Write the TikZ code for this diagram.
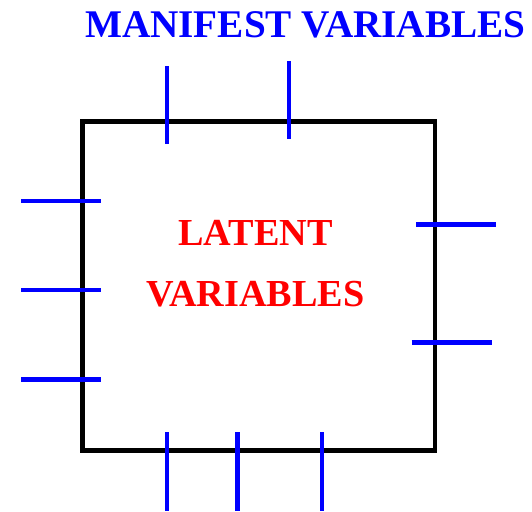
\documentclass[tikz,border=0pt]{standalone}
\usepackage{fontspec}
\setmainfont{Liberation Serif}
\begin{document}
\begin{tikzpicture}[x=1pt,y=-1pt,
  boxline/.style={draw=black,line width=4.6pt},
  mv/.style={draw=blue,line width=4.4pt},
  lbl/.style={inner sep=0pt,anchor=base,font=\bfseries\fontsize{38.2}{45}\selectfont}]
\useasboundingbox (0,0) rectangle (532,511);
\draw[boxline] (82.5,121.5) rectangle (435,450.5);
% top
\draw[mv] (167,66) -- (167,144);
\draw[mv] (289,61) -- (289,139);
% left
\draw[mv] (21,201) -- (101,201);
\draw[mv] (21,290) -- (101,290);
\draw[mv] (21,379.5) -- (101,379.5);
% right
\draw[mv] (416,224.5) -- (496,224.5);
\draw[mv] (411.5,342.3) -- (491.5,342.3);
% bottom
\draw[mv] (167,432) -- (167,511);
\draw[mv] (237.5,432) -- (237.5,511);
\draw[mv] (322,432) -- (322,511);
\node[lbl,text=blue,font=\bfseries\fontsize{39.2}{45}\selectfont] (manifest) at (305.3,37.3) {MANIFEST VARIABLES};
\node[lbl,text=red] (latent1) at (255.5,245) {LATENT};
\node[lbl,text=red] (latent2) at (255.5,306) {VARIABLES};
\end{tikzpicture}
\end{document}
